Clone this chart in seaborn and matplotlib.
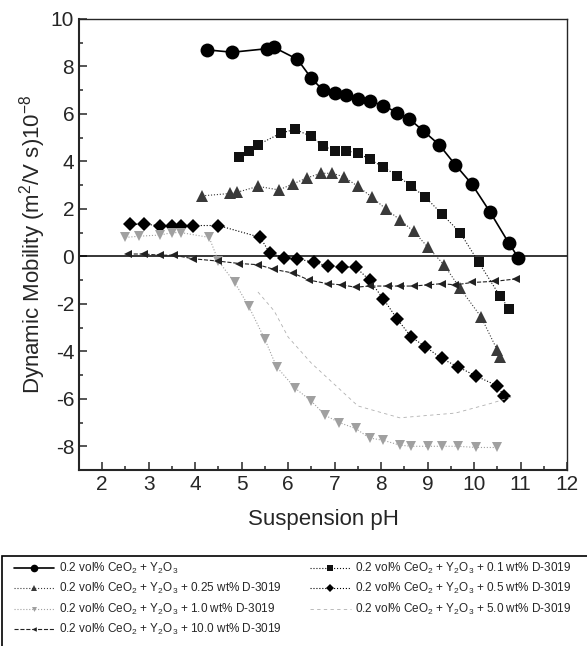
"""Dynamic mobility vs suspension pH for CeO2 + Y2O3 suspensions."""

import matplotlib
matplotlib.use("Agg")
import matplotlib.pyplot as plt
import pandas as pd
import seaborn as sns
from matplotlib.patches import Rectangle
from matplotlib.ticker import MultipleLocator

# --- data ------------------------------------------------------------------
ph_base = [4.25, 4.8, 5.55, 5.7, 6.2, 6.5, 6.75, 7.0, 7.25, 7.5, 7.75, 8.05,
           8.35, 8.6, 8.9, 9.25, 9.6, 9.95, 10.35, 10.75, 10.95]
mob_base = [8.7, 8.6, 8.75, 8.8, 8.3, 7.5, 7.0, 6.9, 6.8, 6.65, 6.55, 6.35,
            6.05, 5.8, 5.3, 4.7, 3.85, 3.05, 1.85, 0.55, -0.05]

ph_01 = [4.95, 5.15, 5.35, 5.85, 6.15, 6.5, 6.75, 7.0, 7.25, 7.5, 7.75, 8.05,
         8.35, 8.65, 8.95, 9.3, 9.7, 10.1, 10.55, 10.75]
mob_01 = [4.2, 4.45, 4.7, 5.2, 5.35, 5.05, 4.65, 4.45, 4.45, 4.35, 4.1, 3.75,
          3.4, 2.95, 2.5, 1.8, 1.0, -0.25, -1.65, -2.2]

ph_025 = [4.15, 4.75, 4.9, 5.35, 5.8, 6.1, 6.4, 6.7, 6.95, 7.2, 7.5, 7.8, 8.1,
          8.4, 8.7, 9.0, 9.35, 9.7, 10.15, 10.5, 10.55]
mob_025 = [2.55, 2.65, 2.7, 2.95, 2.8, 3.05, 3.3, 3.5, 3.5, 3.35, 2.95, 2.5,
           2.0, 1.55, 1.05, 0.4, -0.35, -1.35, -2.55, -3.95, -4.25]

ph_05 = [2.6, 2.9, 3.25, 3.5, 3.7, 3.95, 4.5, 5.4, 5.6, 5.9, 6.2, 6.55, 6.85,
         7.15, 7.45, 7.75, 8.05, 8.35, 8.65, 8.95, 9.3, 9.65, 10.05, 10.5, 10.65]
mob_05 = [1.35, 1.35, 1.3, 1.3, 1.3, 1.3, 1.3, 0.8, 0.15, -0.05, -0.1, -0.25,
          -0.4, -0.45, -0.45, -1.0, -1.8, -2.65, -3.4, -3.8, -4.3, -4.65,
          -5.05, -5.45, -5.9]

ph_10 = [2.5, 2.8, 3.25, 3.5, 3.7, 4.3, 4.5, 4.85, 5.15, 5.5, 5.75, 6.15, 6.5,
         6.8, 7.1, 7.45, 7.75, 8.05, 8.4, 8.65, 9.0, 9.3, 9.65, 10.05, 10.5]
mob_10 = [0.8, 0.85, 0.9, 1.0, 1.0, 0.8, -0.2, -1.1, -2.1, -3.5, -4.65, -5.55,
          -6.1, -6.7, -7.0, -7.25, -7.65, -7.75, -7.95, -8.0, -8.0, -8.0, -8.0,
          -8.05, -8.05]

ph_50 = [5.35, 5.7, 6.0, 6.5, 7.5, 8.4, 9.6, 10.35, 10.85]
mob_50 = [-1.5, -2.3, -3.4, -4.5, -6.3, -6.8, -6.6, -6.2, -5.9]

ph_100 = [2.55, 2.9, 3.25, 3.55, 3.95, 4.5, 4.95, 5.35, 5.7, 6.1, 6.45, 6.85,
          7.15, 7.45, 7.75, 8.15, 8.4, 8.7, 9.0, 9.3, 9.6, 9.95, 10.45, 10.9]
mob_100 = [0.1, 0.1, 0.05, 0.05, -0.1, -0.2, -0.3, -0.35, -0.55, -0.7, -1.0,
           -1.15, -1.2, -1.3, -1.25, -1.25, -1.25, -1.25, -1.2, -1.15, -1.2,
           -1.1, -1.05, -0.95]

base = r"0.2 vol% CeO$_2$ + Y$_2$O$_3$"
labels = [base,
          base + " + 0.1 wt% D-3019",
          base + " + 0.25 wt% D-3019",
          base + " + 0.5 wt% D-3019",
          base + " + 1.0 wt% D-3019",
          base + " + 5.0 wt% D-3019",
          base + " + 10.0 wt% D-3019"]

# --- plotting ---------------------------------------------------------------
sns.set_theme(style="ticks")
plt.rcParams["font.family"] = ["Liberation Sans", "DejaVu Sans"]
plt.rcParams["mathtext.fontset"] = "custom"
plt.rcParams["mathtext.rm"] = "Liberation Sans"
plt.rcParams["mathtext.it"] = "Liberation Sans:italic"
plt.rcParams["axes.unicode_minus"] = False

fig = plt.figure(figsize=(5.87, 6.46), dpi=100)
ax = fig.add_axes([0.1346, 0.2724, 0.8314, 0.6982])

series = [
    (ph_base, mob_base, dict(color="black", marker="o", markersize=10,
                             linestyle="-", linewidth=1.2)),
    (ph_01, mob_01, dict(color="#111111", marker="s", markersize=7,
                         linestyle=":", linewidth=0.8)),
    (ph_025, mob_025, dict(color="#3a3a3a", marker="^", markersize=8,
                           linestyle=":", linewidth=0.8)),
    (ph_05, mob_05, dict(color="black", marker="D", markersize=7.5,
                         linestyle=":", linewidth=0.8)),
    (ph_10, mob_10, dict(color="#a0a0a0", marker="v", markersize=6.5,
                         linestyle=":", linewidth=0.8)),
    (ph_50, mob_50, dict(color="#b0b0b0", marker=None,
                         linestyle=(0, (4, 4)), linewidth=0.6)),
    (ph_100, mob_100, dict(color="#222222", marker="<", markersize=6,
                           linestyle="--", linewidth=0.8)),
]

handles = []
for (x, y, style), label in zip(series, labels):
    df = pd.DataFrame({"pH": x, "mob": y})
    sns.lineplot(data=df, x="pH", y="mob", sort=False, ax=ax, label=label,
                 markeredgewidth=0, **style)
    handles.append(ax.lines[-1])

ax.axhline(0, color="black", linewidth=1.1, zorder=1)

ax.set_xlim(1.5, 12)
ax.set_ylim(-9, 10)
ax.xaxis.set_major_locator(MultipleLocator(1))
ax.xaxis.set_minor_locator(MultipleLocator(0.5))
ax.yaxis.set_major_locator(MultipleLocator(2))
ax.yaxis.set_minor_locator(MultipleLocator(1))
ax.tick_params(which="both", direction="in", labelsize=15, width=1.1)
ax.tick_params(which="major", length=6)
ax.tick_params(which="minor", length=3)
for side in ["left", "bottom"]:
    ax.spines[side].set_linewidth(1.5)
for side in ["top", "right"]:
    ax.spines[side].set_linewidth(1.0)

ax.set_xlabel("Suspension pH", fontsize=16, labelpad=11)
ax.set_ylabel(r"Dynamic Mobility (m$^2$/V s)10$^{-8}$", fontsize=16,
              labelpad=2)

# legend box runs off the bottom / right edge like the scanned original
ax.get_legend().remove()
order = [0, 2, 4, 6, 1, 3, 5]
leg = fig.legend([handles[i] for i in order], [labels[i] for i in order],
                 loc="upper left", bbox_to_anchor=(0.004, -0.05, 0.99, 0.2),
                 mode="expand", ncol=2, fontsize=8.5, frameon=False,
                 handlelength=3.4, handletextpad=0.4, markerscale=0.55,
                 labelspacing=0.45, borderpad=0.5, columnspacing=1.0)
fig.patches.append(Rectangle((0.004, -0.05), 1.0, 0.189, fill=False,
                             edgecolor="black", linewidth=1.2,
                             transform=fig.transFigure, figure=fig))

fig.savefig("out.png", dpi=100)
